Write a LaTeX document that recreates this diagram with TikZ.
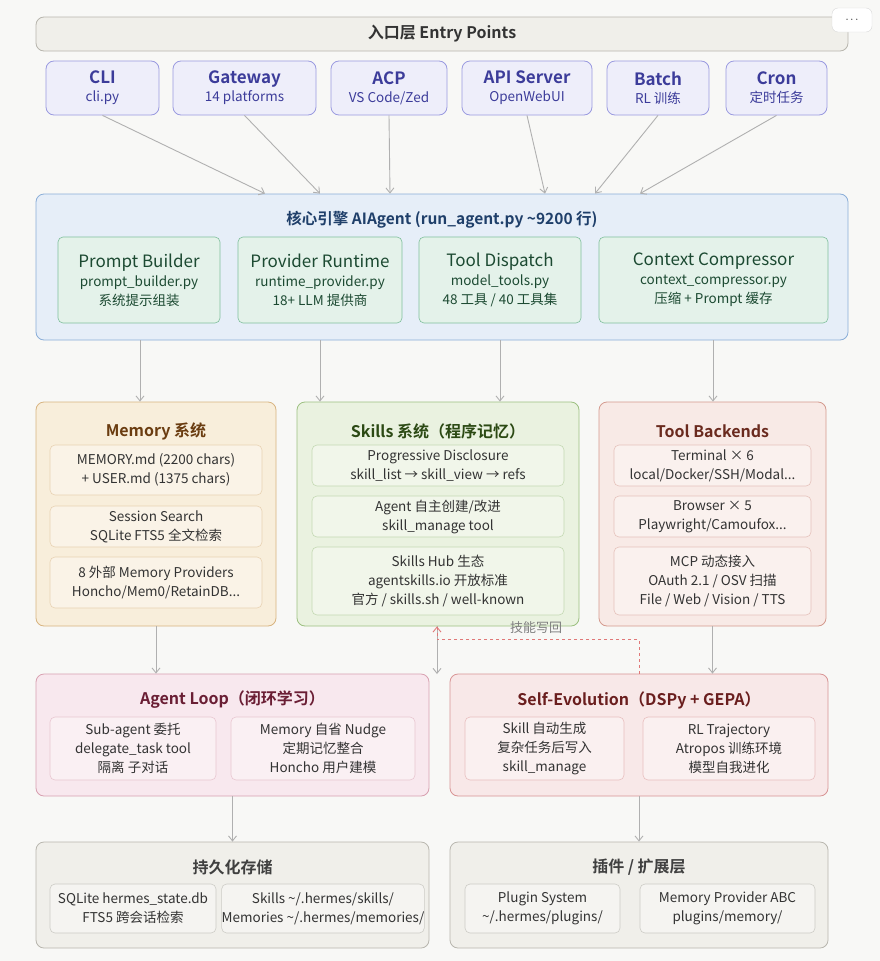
\documentclass[tikz,border=0pt]{standalone}
\usepackage{fontspec}
\setmainfont{Noto Sans CJK SC}[BoldFont={Noto Sans CJK SC Bold}]
\usetikzlibrary{arrows.meta}
\usetikzlibrary{positioning}
\definecolor{bgcol}{HTML}{F8F8F6}
\definecolor{greyfill}{HTML}{F0EFEA}
\definecolor{greyline}{HTML}{B8B6AE}
\definecolor{entfill}{HTML}{EEEEFA}
\definecolor{entline}{HTML}{9A9AE0}
\definecolor{enttext}{HTML}{3C3C9A}
\definecolor{corefill}{HTML}{E6EEF8}
\definecolor{coreline}{HTML}{8AAED8}
\definecolor{coretext}{HTML}{1F3F6A}
\definecolor{modfill}{HTML}{E4F2EA}
\definecolor{modline}{HTML}{7FBF9C}
\definecolor{modtext}{HTML}{1C4A32}
\definecolor{memfill}{HTML}{F8EEDB}
\definecolor{memline}{HTML}{D8B480}
\definecolor{memtext}{HTML}{6A3C10}
\definecolor{skfill}{HTML}{EAF2E0}
\definecolor{skline}{HTML}{9CC080}
\definecolor{sktext}{HTML}{2C4A14}
\definecolor{tbfill}{HTML}{F8EAE6}
\definecolor{tbline}{HTML}{D49A8E}
\definecolor{tbtext}{HTML}{6A2A1E}
\definecolor{alfill}{HTML}{F8E8EE}
\definecolor{alline}{HTML}{D8A0B0}
\definecolor{altext}{HTML}{6A1E34}
\definecolor{sefill}{HTML}{F8E8E8}
\definecolor{seline}{HTML}{D89494}
\definecolor{setext}{HTML}{6A1E1E}
\definecolor{arrcol}{HTML}{B0B0B0}
\definecolor{dashcol}{HTML}{E07878}
\tikzset{
  box/.style={draw,rounded corners=8pt,line width=0.8pt,inner sep=0pt},
  inbox/.style={draw,rounded corners=5pt,line width=0.6pt,align=center,inner sep=0pt,
    font=\fontsize{13.5}{19}\selectfont,text=black!80,fill=white,fill opacity=0.35,text opacity=1},
  title/.style={font=\fontsize{16}{19}\selectfont\bfseries},
  arr/.style={draw=arrcol,line width=0.9pt,-{Straight Barb[length=5pt,width=8pt]}}
}
\begin{document}
\begin{tikzpicture}[x=1pt,y=-1pt]
\fill[bgcol] (0,0) rectangle (880,961);
\useasboundingbox (0,0) rectangle (880,961);
%% entry layer
\node (top) at (442,34) [box,fill=greyfill,draw=greyline,minimum width=812,minimum height=34,
  font=\fontsize{16}{19}\selectfont\bfseries,text=black!80] {入口层 Entry Points};
\node (more) at (852,20) [draw=black!15,fill=white,rounded corners=6pt,minimum width=40,minimum height=24,
  font=\fontsize{11}{12}\selectfont] {$\cdots$};
\tikzset{ent/.style={box,fill=entfill,draw=entline,text=enttext,align=center,minimum height=54,
  font=\fontsize{13.5}{18}\selectfont}}
\node (cli) at (102.5,88) [ent,minimum width=113] {{\fontsize{17}{20}\selectfont\bfseries CLI}\\cli.py};
\node (gw) at (244.5,88) [ent,minimum width=143] {{\fontsize{17}{20}\selectfont\bfseries Gateway}\\14 platforms};
\node (acp) at (389,88) [ent,minimum width=116] {{\fontsize{17}{20}\selectfont\bfseries ACP}\\VS Code/Zed};
\node (api) at (527,88) [ent,minimum width=130] {{\fontsize{17}{20}\selectfont\bfseries API Server}\\OpenWebUI};
\node (batch) at (658,88) [ent,minimum width=102] {{\fontsize{17}{20}\selectfont\bfseries Batch}\\RL 训练};
\node (cron) at (776.5,88) [ent,minimum width=101] {{\fontsize{17}{20}\selectfont\bfseries Cron}\\定时任务};
%% core
\node (core) at (442,267) [box,fill=corefill,draw=coreline,minimum width=812,minimum height=146] {};
\node (coret) at (442,220) [text=coretext,font=\fontsize{15.5}{19}\selectfont\bfseries] {核心引擎 AIAgent (run\_agent.py \textasciitilde9200 行)};
\tikzset{mod/.style={inbox,draw=modline,fill=modfill,fill opacity=1,text=modtext,minimum height=86}}
\node (pb) at (139,280) [mod,minimum width=162] {{\fontsize{17}{23}\selectfont Prompt Builder}\\prompt\_builder.py\\系统提示组装};
\node (pr) at (320,280) [mod,minimum width=164] {{\fontsize{17}{23}\selectfont Provider Runtime}\\runtime\_provider.py\\18+ LLM 提供商};
\node (td) at (500,280) [mod,minimum width=162] {{\fontsize{17}{23}\selectfont Tool Dispatch}\\model\_tools.py\\48 工具 / 40 工具集};
\node (cc) at (713.5,280) [mod,minimum width=229] {{\fontsize{17}{23}\selectfont Context Compressor}\\context\_compressor.py\\压缩 + Prompt 缓存};
\foreach \n/\s in {cli/-177,gw/-122,acp/-52,api/103,batch/153,cron/198}
  \draw[arr] (\n.south) -- ([xshift=\s]core.north);
%% second row
\node (mem) at (156,514) [box,fill=memfill,draw=memline,minimum width=240,minimum height=224] {};
\node (memt) at (156,431) [title,text=memtext] {Memory 系统};
\node (m1) at (156,470) [inbox,draw=memline!60,minimum width=212,minimum height=50] {MEMORY.md (2200 chars)\\+ USER.md (1375 chars)};
\node (m2) at (156,526.5) [inbox,draw=memline!60,minimum width=212,minimum height=41] {Session Search\\SQLite FTS5 全文检索};
\node (m3) at (156,582.5) [inbox,draw=memline!60,minimum width=212,minimum height=51] {8 外部 Memory Providers\\Honcho/Mem0/RetainDB...};
\node (sk) at (438,514) [box,fill=skfill,draw=skline,minimum width=282,minimum height=224] {};
\node (skt) at (438,431) [title,text=sktext] {Skills 系统（程序记忆）};
\node (s1) at (438,465.5) [inbox,draw=skline!60,minimum width=252,minimum height=41] {Progressive Disclosure\\skill\_list → skill\_view → refs};
\node (s2) at (438,516.5) [inbox,draw=skline!60,minimum width=252,minimum height=41] {Agent 自主创建/改进\\skill\_manage tool};
\node (s3) at (438,581) [inbox,draw=skline!60,minimum width=252,minimum height=68] {Skills Hub 生态\\agentskills.io 开放标准\\官方 / skills.sh / well-known};
\node (tb) at (712.5,514) [box,fill=tbfill,draw=tbline,minimum width=227,minimum height=224] {};
\node (tbt) at (712.5,431) [title,text=tbtext] {Tool Backends};
\node (t1) at (712.5,465.5) [inbox,draw=tbline!60,minimum width=197,minimum height=41] {Terminal × 6\\local/Docker/SSH/Modal...};
\node (t2) at (712.5,516.5) [inbox,draw=tbline!60,minimum width=197,minimum height=41] {Browser × 5\\Playwright/Camoufox...};
\node (t3) at (712.5,581) [inbox,draw=tbline!60,minimum width=197,minimum height=68] {MCP 动态接入\\OAuth 2.1 / OSV 扫描\\File / Web / Vision / TTS};
\draw[arr] ([xshift=-302]core.south) -- ([xshift=-16]mem.north);
\draw[arr] ([xshift=-122]core.south) -- ([xshift=-118]sk.north);
\draw[arr] ([xshift=58]core.south) -- ([xshift=62]sk.north);
\draw[arr] ([xshift=271]core.south) -- ([xshift=0.5]tb.north);
%% third row
\node (al) at (232.5,735) [box,fill=alfill,draw=alline,minimum width=393,minimum height=122] {};
\node (alt) at (232.5,700) [title,text=altext] {Agent Loop（闭环学习）};
\node (a1) at (133,748.5) [inbox,draw=alline!60,minimum width=166,minimum height=63] {Sub-agent 委托\\delegate\_task tool\\隔离 子对话};
\node (a2) at (323,748.5) [inbox,draw=alline!60,minimum width=184,minimum height=63] {Memory 自省 Nudge\\定期记忆整合\\Honcho 用户建模};
\node (se) at (639,735) [box,fill=sefill,draw=seline,minimum width=378,minimum height=122] {};
\node (set) at (639,700) [title,text=setext] {Self-Evolution（DSPy + GEPA）};
\node (e1) at (544.5,748.5) [inbox,draw=seline!60,minimum width=159,minimum height=63] {Skill 自动生成\\复杂任务后写入\\skill\_manage};
\node (e2) at (729,748.5) [inbox,draw=seline!60,minimum width=172,minimum height=63] {RL Trajectory\\Atropos 训练环境\\模型自我进化};
\draw[arr] (mem.south) -- ([xshift=-76.5]al.north);
\draw[arr] (tb.south) -- ([xshift=73.5]se.north);
\coordinate (gap) at (437,674);
\draw[arr] ([xshift=-1]sk.south) -- (gap);
\draw[draw=dashcol,line width=0.9pt,dashed,-{Straight Barb[length=5pt,width=8pt]}]
  (se.north) -- ++(0,-34) -| ([xshift=-1]sk.south);
\node (wb) at (536,628) [text=black!50,font=\fontsize{13}{15}\selectfont] {技能写回};
%% bottom row
\node (ps) at (232.5,895) [box,fill=greyfill,draw=greyline,minimum width=393,minimum height=106] {};
\node (pst) at (232.5,867) [title,text=black!75] {持久化存储};
\node (p1) at (133,908.5) [inbox,draw=greyline!70,minimum width=166,minimum height=49] {SQLite hermes\_state.db\\FTS5 跨会话检索};
\node (p2) at (323,908.5) [inbox,draw=greyline!70,minimum width=184,minimum height=49] {Skills \textasciitilde/.hermes/skills/\\Memories \textasciitilde/.hermes/memories/};
\node (pl) at (639,895) [box,fill=greyfill,draw=greyline,minimum width=378,minimum height=106] {};
\node (plt) at (639,867) [title,text=black!75] {插件 / 扩展层};
\node (q1) at (542.5,908.5) [inbox,draw=greyline!70,minimum width=155,minimum height=49] {Plugin System\\\textasciitilde/.hermes/plugins/};
\node (q2) at (727.5,908.5) [inbox,draw=greyline!70,minimum width=175,minimum height=49] {Memory Provider ABC\\plugins/memory/};
\draw[arr] (al.south) -- (ps.north);
\draw[arr] (se.south) -- (pl.north);
\end{tikzpicture}
\end{document}
